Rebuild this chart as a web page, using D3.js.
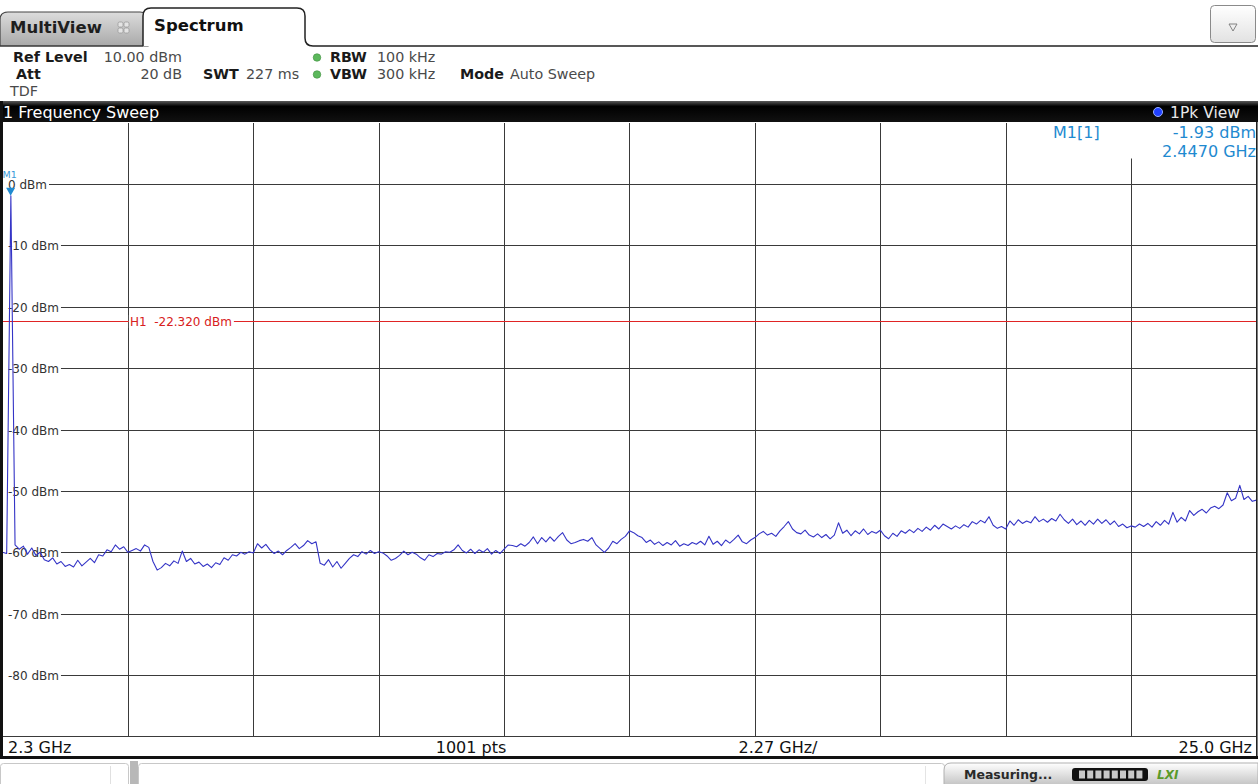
<!DOCTYPE html>
<html>
<head>
<meta charset="utf-8">
<script src="https://cdn.jsdelivr.net/npm/d3@7"></script>
<style>
  html, body { margin: 0; padding: 0; background: #fff; }
  svg { display: block; }
  text { font-family: "DejaVu Sans", sans-serif; }
</style>
</head>
<body>
<svg id="chart" width="1258" height="784"></svg>
<script>
// ---------------- data ----------------
const startFreqGHz = 2.3;
const stopFreqGHz = 25.0;
const spanPerDivLabel = "2.27 GHz/";
const sweepPointsLabel = "1001 pts";
const refLevel = 10;            // dBm, top of grid
const dbPerDiv = 10;
const yTickValues = [0, -10, -20, -30, -40, -50, -60, -70, -80];
const yTickLabels = ["0 dBm", "-10 dBm", "-20 dBm", "-30 dBm", "-40 dBm", "-50 dBm", "-60 dBm", "-70 dBm", "-80 dBm"];
const xDivisions = [0,1,2,3,4,5,6,7,8,9,10];
const h1Level = -22.32;
const h1Label = "H1  -22.320 dBm";
const markerNames = ["M1"];
const markerFreqs = [2.447];
const markerLevels = [-1.93];
const markerInfo = ["M1[1]", "-1.93 dBm", "2.4470 GHz"];

const traceLevels = [
-60.0, -60.2, -1.93, -58.8, -59.5, -59.0, -60.3, -59.3, -60.5, -60.0, -61.2,
-61.5, -60.9, -61.9, -61.5, -62.3, -62.0, -62.4, -61.3, -62.2, -61.6,
-61.0, -61.7, -60.4, -60.6, -59.6, -59.9, -58.8, -59.5, -59.1, -60.0,
-59.7, -59.4, -59.8, -58.8, -59.2, -61.5, -62.9, -62.5, -61.8, -62.2,
-61.4, -61.8, -59.8, -61.5, -61.0, -61.9, -61.6, -62.3, -61.9, -62.5,
-61.7, -62.0, -60.9, -61.3, -60.4, -60.6, -60.0, -60.3, -59.9, -60.1,
-58.6, -59.3, -58.7, -59.6, -60.2, -59.8, -60.4, -59.7, -59.2, -58.6,
-59.4, -58.9, -58.1, -58.6, -58.3, -61.8, -62.1, -61.2, -62.4, -61.5,
-62.6, -61.8, -61.0, -60.4, -60.7, -59.9, -60.3, -59.7, -60.2, -59.9,
-60.1, -60.6, -61.3, -61.0, -60.5, -59.8, -60.4, -60.0, -60.3, -60.9,
-61.3, -60.4, -60.7, -60.2, -60.3, -59.9, -60.0, -59.6, -58.8, -59.7,
-60.1, -59.5, -60.2, -59.6, -60.0, -59.4, -60.3, -59.7, -60.2, -59.5,
-58.8, -58.9, -59.1, -58.6, -59.0, -58.4, -57.5, -58.6, -57.6, -58.3,
-57.5, -58.2, -57.4, -56.8, -58.0, -58.6, -58.4, -58.1, -57.9, -58.2,
-57.6, -58.8, -59.4, -60.0, -59.3, -58.2, -58.6, -57.9, -57.4, -56.5,
-56.8, -57.3, -57.6, -58.4, -58.0, -58.7, -58.3, -58.9, -58.4, -58.8,
-58.1, -59.0, -58.6, -58.9, -58.4, -58.7, -58.2, -58.8, -57.4, -58.7,
-58.2, -58.9, -58.0, -58.5, -57.9, -57.2, -58.3, -58.6, -58.0, -57.6,
-57.0, -56.6, -57.2, -56.9, -57.4, -56.5, -55.8, -55.0, -56.2, -56.8,
-57.0, -56.4, -57.2, -57.5, -57.0, -57.6, -57.1, -57.8, -57.2, -55.2,
-56.9, -56.4, -57.3, -56.5, -57.0, -56.2, -57.1, -56.6, -56.9, -56.4,
-57.3, -57.8, -56.9, -57.4, -56.5, -56.9, -56.3, -56.8, -56.1, -56.6,
-55.9, -56.4, -55.6, -56.2, -55.4, -55.8, -56.2, -55.7, -56.1, -55.5,
-55.9, -55.0, -55.4, -54.8, -55.2, -54.2, -55.6, -56.1, -55.8, -56.2,
-54.9, -55.6, -54.7, -55.3, -54.9, -55.2, -54.2, -55.0, -54.6, -55.1,
-54.5, -54.9, -53.8, -54.7, -55.3, -54.6, -55.5, -54.9, -55.6, -54.8,
-55.4, -54.6, -55.3, -54.7, -55.5, -54.9, -55.8, -55.4, -56.0, -55.7,
-55.9, -55.4, -55.8, -55.3, -55.9, -55.0, -55.6, -54.8, -55.4, -53.5,
-55.1, -54.3, -54.9, -53.2, -54.0, -53.4, -53.0, -53.6, -52.8, -52.5,
-52.9, -52.3, -50.3, -51.6, -51.2, -49.1, -51.4, -50.9, -51.7, -51.5
];

// ---------------- drawing ----------------
const svg = d3.select("#chart");
const W = 1258, H = 784;
const plot = { left: 2.5, right: 1256.5, top: 122.5, bottom: 736.5 };

const x = d3.scaleLinear().domain([startFreqGHz, stopFreqGHz]).range([plot.left, plot.right]);
const y = d3.scaleLinear().domain([refLevel, refLevel - 10 * dbPerDiv]).range([plot.top, plot.bottom]);

const defs = svg.append("defs");
const gTab = defs.append("linearGradient").attr("id", "gTab").attr("x1", 0).attr("y1", 0).attr("x2", 0).attr("y2", 1);
gTab.append("stop").attr("offset", "0%").attr("stop-color", "#dcdcdc");
gTab.append("stop").attr("offset", "100%").attr("stop-color", "#a9a9a9");
const gHdr = defs.append("linearGradient").attr("id", "gHdr").attr("x1", 0).attr("y1", 0).attr("x2", 0).attr("y2", 1);
gHdr.append("stop").attr("offset", "0%").attr("stop-color", "#5a5a5a");
gHdr.append("stop").attr("offset", "25%").attr("stop-color", "#000");
gHdr.append("stop").attr("offset", "100%").attr("stop-color", "#111");
const gBtn = defs.append("linearGradient").attr("id", "gBtn").attr("x1", 0).attr("y1", 0).attr("x2", 0).attr("y2", 1);
gBtn.append("stop").attr("offset", "0%").attr("stop-color", "#ffffff");
gBtn.append("stop").attr("offset", "100%").attr("stop-color", "#e2e2e2");
const gStat = defs.append("linearGradient").attr("id", "gStat").attr("x1", 0).attr("y1", 0).attr("x2", 0).attr("y2", 1);
gStat.append("stop").attr("offset", "0%").attr("stop-color", "#ffffff");
gStat.append("stop").attr("offset", "100%").attr("stop-color", "#c4c4c4");

svg.append("rect").attr("width", W).attr("height", H).attr("fill", "#fff");

// ----- tabs -----
svg.append("path")
  .attr("d", "M0,46 L0,20 Q0,12 8,12 L140,12 Q148,12 148,20 L148,46 Z")
  .attr("fill", "url(#gTab)").attr("stroke", "#444").attr("stroke-width", 1.2);
svg.append("text").attr("x", 10).attr("y", 33).attr("font-size", 16.5).attr("font-weight", "bold")
  .attr("fill", "#1e1e1e").text("MultiView");
const icon = svg.append("g").attr("transform", "translate(118,22)");
[[0,0],[6,0],[0,6],[6,6]].forEach(p => {
  icon.append("rect").attr("x", p[0]).attr("y", p[1]).attr("width", 5).attr("height", 5).attr("rx", 1.5)
    .attr("fill", "#e4e4e4").attr("stroke", "#9a9a9a").attr("stroke-width", 0.8);
});
svg.append("path")
  .attr("d", "M143,46 L143,16 Q143,8 151,8 L297,8 Q305,8 305,16 L305,38 Q305,46 313,46 L1258,46")
  .attr("fill", "#fff").attr("stroke", "#222").attr("stroke-width", 1.5);
svg.append("line").attr("x1", 0).attr("x2", 143).attr("y1", 46).attr("y2", 46).attr("stroke", "#333").attr("stroke-width", 1.2);
svg.append("text").attr("x", 154).attr("y", 31).attr("font-size", 16.5).attr("font-weight", "bold")
  .attr("fill", "#111").text("Spectrum");

// dropdown button
svg.append("rect").attr("x", 1210.5).attr("y", 5.5).attr("width", 45).attr("height", 37).attr("rx", 4)
  .attr("fill", "url(#gBtn)").attr("stroke", "#8a8a8a");
svg.append("path").attr("d", "M1229,24 L1237,24 L1233,31 Z").attr("fill", "none").attr("stroke", "#777").attr("stroke-width", 0.9);

// ----- settings text -----
const info = svg.append("g").attr("font-size", 14.3).attr("fill", "#3a3a3a");
function lbl(tx, ty, t, bold, anchor) {
  info.append("text").attr("x", tx).attr("y", ty).attr("font-weight", bold ? "bold" : "normal")
    .attr("fill", bold ? "#1a1a1a" : "#4a4a4a").attr("text-anchor", anchor || "start").text(t);
}
lbl(13, 62, "Ref Level", true);
lbl(182, 62, "10.00 dBm", false, "end");
lbl(16, 79, "Att", true);
lbl(182, 79, "20 dB", false, "end");
lbl(203, 79, "SWT", true);
lbl(246, 79, "227 ms", false);
lbl(330, 62, "RBW", true);
lbl(377, 62, "100 kHz", false);
lbl(330, 79, "VBW", true);
lbl(377, 79, "300 kHz", false);
lbl(460, 79, "Mode", true);
lbl(510, 79, "Auto Sweep", false);
lbl(10, 96, "TDF", false);
[57.5, 74.5].forEach(cy => {
  svg.append("circle").attr("cx", 317).attr("cy", cy).attr("r", 3.8).attr("fill", "#5cb85c").attr("stroke", "#3f8f3f").attr("stroke-width", 0.6);
});

// ----- window header -----
svg.append("rect").attr("x", 0).attr("y", 101).attr("width", W).attr("height", 21).attr("fill", "url(#gHdr)");
svg.append("text").attr("x", 3).attr("y", 118).attr("font-size", 16).attr("fill", "#fff").text("1 Frequency Sweep");
svg.append("circle").attr("cx", 1158).attr("cy", 112).attr("r", 4.5).attr("fill", "#2040ff").attr("stroke", "#9ab0ff").attr("stroke-width", 1);
svg.append("text").attr("x", 1240).attr("y", 117.5).attr("text-anchor", "end").attr("font-size", 15.5)
  .attr("fill", "#e8e8e8").text("1Pk View");

// ----- grid -----
const grid = svg.append("g").attr("stroke", "#3a3a3a").attr("stroke-width", 1).attr("shape-rendering", "crispEdges");
const divW = (stopFreqGHz - startFreqGHz) / 10;
grid.selectAll("line.v").data(xDivisions.slice(1, 10)).join("line")
  .attr("x1", d => Math.round(x(startFreqGHz + d * divW)) + 0.5)
  .attr("x2", d => Math.round(x(startFreqGHz + d * divW)) + 0.5)
  .attr("y1", plot.top).attr("y2", plot.bottom);
grid.selectAll("line.h").data(yTickValues).join("line")
  .attr("x1", plot.left).attr("x2", plot.right)
  .attr("y1", d => Math.round(y(d)) + 0.5).attr("y2", d => Math.round(y(d)) + 0.5);

// y labels with white background
const yl = svg.append("g");
yTickValues.forEach((v, i) => {
  const t = yl.append("text").attr("x", 8).attr("y", Math.round(y(v)) + 0.5).attr("dy", "0.36em")
    .attr("font-size", 12).attr("fill", "#333").text(yTickLabels[i]);
  const w = t.node().getComputedTextLength();
  yl.insert("rect", "text").attr("x", 3).attr("y", Math.round(y(v)) - 6).attr("width", w + 7).attr("height", 13).attr("fill", "#fff");
});

// marker info box
svg.append("rect").attr("x", 1040).attr("y", plot.top).attr("width", 216).attr("height", 36).attr("fill", "#fff");
const mi = svg.append("g").attr("font-family", "'DejaVu Sans Mono', monospace").attr("font-size", 16).attr("fill", "#1f8ad0");
mi.append("text").attr("x", 1053).attr("y", 138).text(markerInfo[0]);
mi.append("text").attr("x", 1256).attr("y", 138).attr("text-anchor", "end").text(markerInfo[1]);
mi.append("text").attr("x", 1256).attr("y", 157).attr("text-anchor", "end").text(markerInfo[2]);

// H1 display line
const h1y = Math.round(y(h1Level)) + 0.5;
const h1g = svg.append("g");
h1g.append("line").attr("x1", plot.left).attr("x2", plot.right)
  .attr("y1", h1y).attr("y2", h1y)
  .attr("stroke", "#e02424").attr("stroke-width", 1).attr("shape-rendering", "crispEdges");
const h1x = x(startFreqGHz + divW) + 2;
const h1bg = h1g.append("rect");
const h1t = h1g.append("text").attr("x", h1x).attr("y", h1y).attr("dy", "0.36em")
  .attr("font-size", 12).attr("fill", "#d82020").style("white-space", "pre").text(h1Label);
const h1w = h1t.node().getComputedTextLength();
h1bg.attr("x", h1x - 1).attr("y", h1y - 6.5).attr("width", h1w + 3).attr("height", 13).attr("fill", "#fff");

// trace
const step = (stopFreqGHz - startFreqGHz) / (traceLevels.length - 1);
const traceData = traceLevels.map((v, i) => ({ f: startFreqGHz + i * step, v: v }));
svg.append("path").datum(traceData)
  .attr("d", d3.line().x(d => x(d.f)).y(d => y(d.v)))
  .attr("fill", "none").attr("stroke", "#3434c6").attr("stroke-width", 1.1).attr("stroke-linejoin", "round");

// marker
markerNames.forEach((m, i) => {
  const mx = x(markerFreqs[i]), my = y(markerLevels[i]);
  svg.append("path").attr("d", `M${mx - 4.5},${my - 8} L${mx + 4.5},${my - 8} L${mx},${my} Z`).attr("fill", "#1f8ad0");
  svg.append("text").attr("x", mx - 8).attr("y", my - 18).attr("font-size", 9.5).attr("fill", "#3a9ad9").text(m);
});

// ----- frame and bottom bar -----
svg.append("rect").attr("x", 0).attr("y", 101).attr("width", 3).attr("height", 658).attr("fill", "#111");
svg.append("line").attr("x1", 1256.8).attr("x2", 1256.8).attr("y1", 122).attr("y2", 758).attr("stroke", "#222").attr("stroke-width", 1.6);
svg.append("rect").attr("x", 3).attr("y", 737).attr("width", 1252.5).attr("height", 19).attr("fill", "#fff");
svg.append("line").attr("x1", 3).attr("x2", 1256).attr("y1", 736.5).attr("y2", 736.5).attr("stroke", "#3a3a3a");
svg.append("rect").attr("x", 0).attr("y", 756).attr("width", W).attr("height", 3).attr("fill", "#111");
const bb = svg.append("g").attr("font-size", 16).attr("fill", "#111");
bb.append("text").attr("x", 8).attr("y", 752.5).text(startFreqGHz.toFixed(1) + " GHz");
bb.append("text").attr("x", 471).attr("y", 752.5).attr("text-anchor", "middle").text(sweepPointsLabel);
bb.append("text").attr("x", 778).attr("y", 752.5).attr("text-anchor", "middle").text(spanPerDivLabel);
bb.append("text").attr("x", 1252).attr("y", 752.5).attr("text-anchor", "end").text(stopFreqGHz.toFixed(1) + " GHz");

// ----- status bar -----
svg.append("rect").attr("x", 0.5).attr("y", 763.5).attr("width", 128).attr("height", 24).attr("rx", 3)
  .attr("fill", "#fff").attr("stroke", "#c8c8c8");
svg.append("line").attr("x1", 110.5).attr("x2", 110.5).attr("y1", 766).attr("y2", 784).attr("stroke", "#e0e0e0");
svg.append("rect").attr("x", 130).attr("y", 761).attr("width", 8).attr("height", 23).attr("fill", "#b8b8b8");
svg.append("rect").attr("x", 138.5).attr("y", 763.5).attr("width", 806).attr("height", 24).attr("rx", 3)
  .attr("fill", "#fff").attr("stroke", "#c8c8c8");
svg.append("line").attr("x1", 925.5).attr("x2", 925.5).attr("y1", 766).attr("y2", 784).attr("stroke", "#e4e4e4");
svg.append("path").attr("d", "M944,785 L944,770 Q944,763 951,763 L1258,763 L1258,785 Z")
  .attr("fill", "url(#gStat)").attr("stroke", "#b0b0b0");
svg.append("text").attr("x", 964).attr("y", 779).attr("font-size", 12.5).attr("font-weight", "bold").attr("fill", "#2a2a2a").text("Measuring...");
svg.append("rect").attr("x", 1072).attr("y", 768).attr("width", 76).attr("height", 13).attr("rx", 3).attr("fill", "#111");
d3.range(8).forEach(k => {
  svg.append("rect").attr("x", 1079 + k * 8.2).attr("y", 770.5).attr("width", 6).attr("height", 8).attr("fill", "#c8c8c8");
});
svg.append("text").attr("x", 1157).attr("y", 779).attr("font-size", 12).attr("font-weight", "bold").attr("font-style", "italic")
  .attr("fill", "#5a9a2a").text("LXI");
</script>
</body>
</html>
